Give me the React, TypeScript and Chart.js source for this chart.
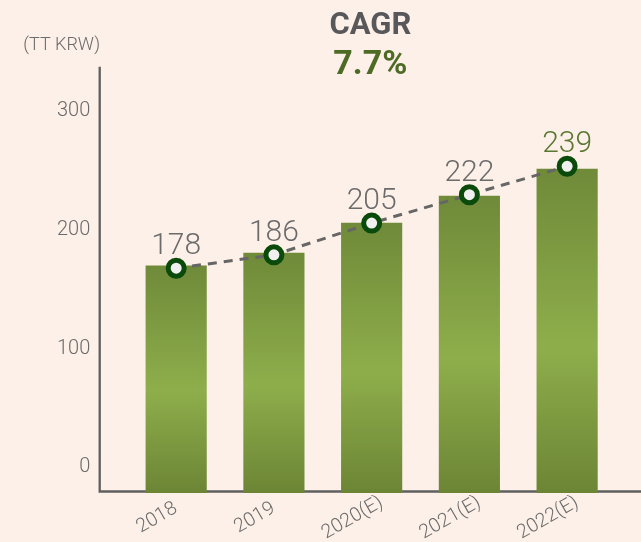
import { useEffect, useRef } from 'react';
import { Chart, registerables } from 'chart.js';

Chart.register(...registerables);

// ---- data ----
const categories = ['2018', '2019', '2020(E)', '2021(E)', '2022(E)'];
const values = [178, 186, 205, 222, 239];
const yTickValues = [0, 100, 200, 300];
const titleText = 'CAGR';
const cagrText = '7.7%';
const unitText = '(TT KRW)';

// ---- style ----
const BG = '#fdf0e8';
const AXIS_COLOR = '#5f5f5f';
const TEXT_GRAY = '#6b6b6b';
const TITLE_GRAY = '#58585a';
const OLIVE = '#4e6b25';
const LAST_LABEL = '#5a7732';
const FONT = 'Roboto, "Noto Sans", sans-serif';
const AXIS_X = 99.7;

const decorPlugin = {
  id: 'decor',
  beforeDraw(chart: any) {
    const { ctx, width, height } = chart;
    ctx.save();
    ctx.fillStyle = BG;
    ctx.fillRect(0, 0, width, height);
    ctx.restore();
  },
  beforeDatasetsDraw(chart: any) {
    const { ctx, chartArea } = chart;
    ctx.save();
    ctx.strokeStyle = AXIS_COLOR;
    ctx.lineWidth = 2.3;
    ctx.beginPath();
    ctx.moveTo(AXIS_X, chartArea.top);
    ctx.lineTo(AXIS_X, chartArea.bottom - 1.5);
    ctx.lineTo(chart.width, chartArea.bottom - 1.5);
    ctx.stroke();
    ctx.restore();
  },
  afterDatasetsDraw(chart: any) {
    const { ctx } = chart;
    // value labels above the line points
    const meta = chart.getDatasetMeta(1);
    ctx.save();
    ctx.font = `300 30px ${FONT}`;
    ctx.textAlign = 'center';
    ctx.textBaseline = 'alphabetic';
    meta.data.forEach((pt: any, i: number) => {
      ctx.fillStyle = i === values.length - 1 ? LAST_LABEL : TEXT_GRAY;
      ctx.fillText(String(values[i]), pt.x, pt.y - 14);
    });
    ctx.restore();

    // category labels (rotated)
    const xs = chart.scales.x;
    ctx.save();
    ctx.font = `300 19.5px ${FONT}`;
    ctx.fillStyle = TEXT_GRAY;
    ctx.textAlign = 'center';
    ctx.textBaseline = 'middle';
    categories.forEach((lab, i) => {
      const cx = xs.getPixelForTick(i) - 19;
      ctx.save();
      ctx.translate(cx, 518);
      ctx.rotate(-Math.PI / 6);
      ctx.fillText(lab, 0, 0);
      ctx.restore();
    });
    ctx.restore();

    // title + CAGR
    const cx = (AXIS_X + chart.width) / 2;
    ctx.save();
    ctx.textAlign = 'center';
    ctx.textBaseline = 'alphabetic';
    ctx.font = `bold 31px ${FONT}`;
    ctx.fillStyle = TITLE_GRAY;
    ctx.fillText(titleText, cx, 34.3);
    ctx.font = `bold 34px ${FONT}`;
    ctx.fillStyle = OLIVE;
    ctx.fillText(cagrText, cx, 74);
    ctx.restore();

    // unit
    ctx.save();
    ctx.font = `300 18px ${FONT}`;
    ctx.fillStyle = TEXT_GRAY;
    ctx.textAlign = 'right';
    ctx.textBaseline = 'middle';
    ctx.fillText(unitText, 100, 45.3);
    ctx.restore();
  },
};

export default function App() {
  const ref = useRef<HTMLCanvasElement | null>(null);

  useEffect(() => {
    if (!ref.current) return;
    const chart = new Chart(ref.current, {
      type: 'bar',
      data: {
        labels: categories,
        datasets: [
          {
            type: 'bar',
            data: values,
            yAxisID: 'yBar',
            order: 2,
            barThickness: 60.5,
            borderWidth: 0,
            backgroundColor: (c: any) => {
              const chart = c.chart;
              const area = chart.chartArea;
              if (!area || c.type !== 'data') return '#7d9a40';
              const top = chart.scales.yBar.getPixelForValue(c.raw);
              const g = chart.ctx.createLinearGradient(0, top, 0, area.bottom);
              g.addColorStop(0, '#6f8a39');
              g.addColorStop(0.55, '#8eae4b');
              g.addColorStop(1, '#6c8535');
              return g;
            },
          },
          {
            type: 'line',
            data: values,
            yAxisID: 'yLine',
            order: 1,
            borderColor: '#666666',
            borderWidth: 3,
            borderDash: [9, 7],
            pointRadius: 8,
            pointHoverRadius: 8,
            pointBorderWidth: 5,
            pointBackgroundColor: '#f0f0f0',
            pointBorderColor: '#0a4a0a',
            tension: 0,
            fill: false,
          },
        ],
      } as any,
      options: {
        animation: false,
        responsive: false,
        devicePixelRatio: 1,
        layout: { padding: { top: 66.7, right: 25, left: 0, bottom: 0 } },
        plugins: {
          legend: { display: false },
          tooltip: { enabled: false },
          title: { display: false },
        },
        scales: {
          x: {
            type: 'category',
            offset: true,
            grid: { display: false, drawTicks: false },
            border: { display: false },
            ticks: { display: false },
            afterFit: (s: any) => { s.height = 49; },
          },
          y: {
            type: 'linear',
            position: 'left',
            min: -21.5,
            max: 337.1,
            grid: { display: false, drawTicks: false },
            border: { display: false },
            ticks: {
              padding: 37,
              color: TEXT_GRAY,
              font: { family: FONT, size: 20, weight: '300' },
            },
            afterBuildTicks: (s: any) => { s.ticks = yTickValues.map((v) => ({ value: v })); },
            afterFit: (s: any) => { s.width = 127.3; },
          },
          yBar: {
            type: 'linear',
            display: false,
            min: 34.6,
            max: 303.6,
          },
          yLine: {
            type: 'linear',
            display: false,
            min: 43.5,
            max: 298.6,
          },
        },
      } as any,
      plugins: [decorPlugin],
    });
    return () => chart.destroy();
  }, []);

  return (
    <div style={{ position: 'absolute', left: 0, top: 0, width: 641, height: 542, background: BG }}>
      <canvas ref={ref} width={641} height={542} style={{ width: 641, height: 542, display: 'block' }} />
    </div>
  );
}
